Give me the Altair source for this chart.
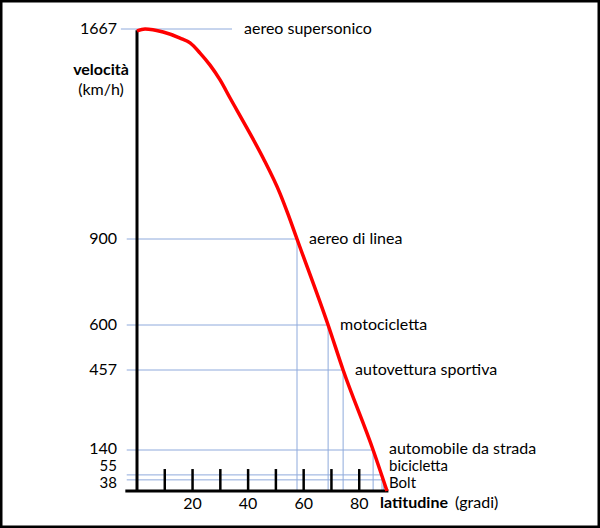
import altair as alt
import pandas as pd

# red curve: latitude (degrees) vs rotation speed (km/h)
curve_lat = [0, 2.9, 9.4, 15.5, 19.1, 22.7, 26.3, 29.9, 33.5, 39.6, 45.4, 51.5, 54.4, 57.6, 68.8, 74.2, 85.0, 90.0]
curve_vel = [1660, 1667, 1656, 1634, 1616, 1579, 1535, 1481, 1415, 1305, 1196, 1066, 990, 900, 600, 457, 140, 0]

# reference speeds
ref_vel = [1667, 900, 600, 457, 140, 55, 38]
ref_lat = [0, 57.6, 68.8, 74.2, 85.0, 88.2, 88.8]
ref_end = [34.2, 57.6, 68.8, 74.2, 85.0, 88.2, 88.8]
ref_names = ["aereo supersonico", "aereo di linea", "motocicletta", "autovettura sportiva",
             "automobile da strada", "bicicletta", "Bolt"]
ref_text = ["1667", "900", "600", "457", "140", "55", "38"]

tick_lat = [10, 20, 30, 40, 50, 60, 70, 80]
tick_labels = [20, 40, 60, 80]

FONT = "Lato"
FS = 16
FS_SMALL = 15
BLUE = "#8FAADC"

curve_df = pd.DataFrame({"lat": curve_lat, "vel": curve_vel})
ref_df = pd.DataFrame({"vel": ref_vel, "lat": ref_lat, "end": ref_end,
                       "name": ref_names, "txt": ref_text, "i": range(len(ref_vel))})
tick_df = pd.DataFrame({"lat": tick_lat})
lab_df = pd.DataFrame({"lat": tick_labels, "txt": [str(v) for v in tick_labels]})
one = pd.DataFrame({"a": [0]})

xs = alt.Scale(domain=[0, 90], range=[137, 387], nice=False, zero=False)
ys = alt.Scale(domain=[0, 140, 457, 600, 900, 1667], range=[491, 450, 370, 325, 239, 29],
               nice=False, zero=False)


def X(field=None, datum=None):
    if datum is not None:
        return alt.X(datum=datum, scale=xs, axis=None)
    return alt.X(field, scale=xs, axis=None)


def Y(field=None, datum=None):
    if datum is not None:
        return alt.Y(datum=datum, scale=ys, axis=None)
    return alt.Y(field, scale=ys, axis=None)


hlines = alt.Chart(ref_df).transform_calculate(start="datum.i == 0 ? -5.8 : -3.7").mark_rule(
    color=BLUE, strokeWidth=1).encode(x=X("start:Q"), x2="end:Q", y=Y("vel:Q"))

vlines = alt.Chart(ref_df).transform_filter("datum.i > 0").transform_calculate(zero="0").mark_rule(
    color=BLUE, strokeWidth=1).encode(x=X("lat:Q"), y=Y("vel:Q"), y2="zero:Q")

yaxis = alt.Chart(one).mark_rule(color="black", strokeWidth=3).encode(
    x=X(datum=0), y=Y(datum=0), y2=alt.Y2(datum=1662))
xaxis = alt.Chart(one).mark_rule(color="black", strokeWidth=3).encode(
    x=X(datum=-4.2), x2=alt.X2(datum=90.5), y=Y(datum=0))
ticks = alt.Chart(tick_df).mark_rule(color="black", strokeWidth=2.5).encode(
    x=X("lat:Q"), y=Y(datum=0), y2=alt.Y2(datum=75))

xlabels = alt.Chart(lab_df).mark_text(font=FONT, fontSize=FS, baseline="top", dy=5, color="black").encode(
    x=X("lat:Q"), y=Y(datum=0), text="txt:N")

curve = alt.Chart(curve_df).mark_line(color="#FF0000", strokeWidth=3.5, interpolate="monotone").encode(
    x=X("lat:Q"), y=Y("vel:Q"))


def left_labels(flt, dy, fs=FS):
    return alt.Chart(ref_df).transform_filter(flt).mark_text(
        font=FONT, fontSize=fs, align="right", baseline="middle", dx=-20, dy=dy, color="black").encode(
        x=X(datum=0), y=Y("vel:Q"), text="txt:N")


ylab_main = left_labels("datum.i < 4", 0)
ylab_140 = left_labels("datum.i == 4", -1.5)
ylab_55 = left_labels("datum.i == 5", -8.5, FS_SMALL)
ylab_38 = left_labels("datum.i == 6", 3, FS_SMALL)

names_top = alt.Chart(ref_df).transform_filter("datum.i < 4").mark_text(
    font=FONT, fontSize=FS, align="left", baseline="middle", dx=12, color="black").encode(
    x=X("end:Q"), y=Y("vel:Q"), text="name:N")


def right_labels(flt, dy, fs=FS):
    return alt.Chart(ref_df).transform_filter(flt).mark_text(
        font=FONT, fontSize=fs, align="left", baseline="middle", dx=2, dy=dy, color="black").encode(
        x=X(datum=90), y=Y("vel:Q"), text="name:N")


names_140 = right_labels("datum.i == 4", -1.5)
names_55 = right_labels("datum.i == 5", -8.5, FS_SMALL)
names_38 = right_labels("datum.i == 6", 3, FS_SMALL)

t_vel = alt.Chart(one).mark_text(font=FONT, fontSize=FS, fontWeight="bold", color="black").encode(
    x=alt.value(101), y=alt.value(70), text=alt.value("velocità"))
t_kmh = alt.Chart(one).mark_text(font=FONT, fontSize=FS, color="black").encode(
    x=alt.value(101), y=alt.value(90), text=alt.value("(km/h)"))
t_lat = alt.Chart(one).mark_text(font=FONT, fontSize=FS, fontWeight="bold", align="left", color="black").encode(
    x=alt.value(380), y=alt.value(503), text=alt.value("latitudine"))
t_gradi = alt.Chart(one).mark_text(font=FONT, fontSize=FS, align="left", color="black").encode(
    x=alt.value(455), y=alt.value(503), text=alt.value("(gradi)"))

chart = alt.layer(
    hlines, vlines, yaxis, xaxis, ticks, xlabels, curve,
    ylab_main, ylab_140, ylab_55, ylab_38, names_top, names_140, names_55, names_38,
    t_vel, t_kmh, t_lat, t_gradi
).properties(
    width=600, height=528, autosize="none", padding=0, background="white"
).configure_view(stroke="black", strokeWidth=5)

chart.save("out.html", embed_options={"renderer": "svg", "actions": False})
